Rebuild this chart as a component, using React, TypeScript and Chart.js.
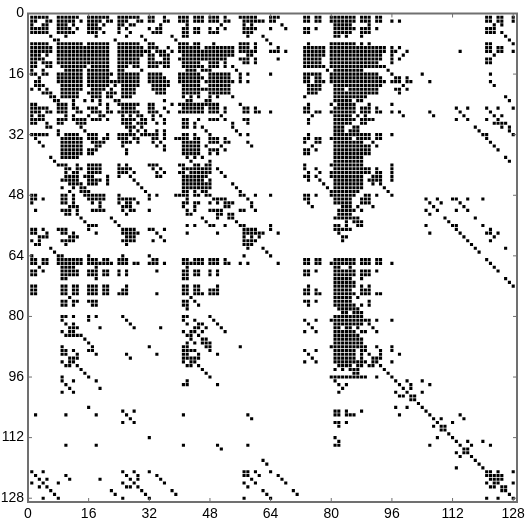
import React, { useEffect, useRef } from "react";
import { Chart, registerables } from "chart.js";

Chart.register(...registerables);

const tickValues = [0, 16, 32, 48, 64, 80, 96, 112, 128];

// Non-zero columns of each matrix row.
const rows1to32 = [
  "1-5 8-13 16-21 24-29 32-33 36 40-42 44-46 48-50 52 56-60 64-66 73-74 76-77 80-86 88-90 92-93 121-122 124-125 128",
  "1-2 5-6 8-12 14 16-19 21-22 24-26 29-30 32-33 36-37 40-42 44-46 48-50 52-53 57-62 64-65 73-74 76-77 80-86 88-90 92-93 96 98 121-122 124-125 128",
  "1 4-5 8-10 12 16-18 20 24-25 27-28 35 42 51 57 59 67 81-85 90 123 125",
  "1-5 8-11 13 16-19 24 26 32 34-35 41-42 44-45 48 50 52 57-60 64 68 73-74 76 81-86 88-90 92 121-123",
  "1-5 8-12 16-18 20 24 27 33-35 41-42 44-45 48-50 57-59 73-74 81-85 88-90 121-123 125",
  "6 10 18 26 30 38 41-42 58 62 81-82 84 88 126",
  "7-8 23 31 39 63 127",
  "1-5 8-14 16-21 24-29 32-33 40-42 44-45 49 56-58 60 64 74 80-86 88 90 121-122 128",
  "1-6 8-21 24-30 32-34 37 40-45 47-54 56-58 60 66 73-78 80-94 96 98 121-122 124-125",
  "1-6 8-21 24-32 34-36 38 40-54 56-60 64-66 68 73-78 80-94 96-97 100 114 121-122 124-125 128",
  "1-3 5 8-21 24-30 32-33 35-37 41-54 58-59 73-78 80-93 96 99 123",
  "1-4 8-21 24-29 32-33 36-37 40-52 56-58 60 66 73-77 80-93 96 98 121-122",
  "1-2 4-6 8-21 24-29 32-37 41-45 48-50 52 57-58 60 73-77 80-92 96 121-122",
  "1-2 5-6 9-15 17-21 24-26 28-29 32-34 36-37 41-46 48-50 52 54 73-78 80-94",
  "1 4 10-14 16-21 24-25 30 42-44 46-48 55 79 81-88 95",
  "1-2 4-5 8-14 16-22 24-29 32-35 40-45 48-53 56 58 64 73-77 80-92 96 104 122",
  "3 8-14 16-21 24-29 32-36 40-46 48-53 56 73-74 76-77 80-93 97-98 100",
  "2-3 8-14 16-29 32-37 40-45 47-54 56 58 73-74 76-78 80-94 96-98 100-101 106 122",
  "2-4 9-14 16-21 23 25-29 33-37 41-45 48-53 74-77 81-93 99 123",
  "1 3 5 9-14 17-20 22 25-28 33-36 41-46 47-53 74-77 81-83 85-92 97-98 100",
  "4-6 9-13 16-19 21-23 25-28 34-36 41-45 48-53 74-76 81-92 98",
  "6-7 9-13 17-19 21-22 25-27 41 43 45 48 50 54 73 81-89 126",
  "7-8 12 15 17 19 23-24 36 42-43 47-48 81-85 87-88 127",
  "1-2 8-10 12 19 21 24-29 32-33 38 40-50 56 74 80 82-86 90 96",
  "1-5 8-10 12-13 16-18 21 25-28 32-33 36 41-46 48-50 52 57-58 60 73-74 81-86 88-90 92 113 116 121 124 128",
  "1-3 5-6 8-10 13-14 17-19 21-22 24-29 32-34 37 40-46 48-50 52 57-58 60-61 64 73-74 76-77 80-86 88-90 92-93 96 98 106 114 122",
  "1 3-4 10 12 16 19-20 25 27 29-30 33 35 51 75 81-85 87 89 99 107 115 123 125",
  "1-4 8-10 12-15 17-19 21 25-28 30-31 33 36 41-42 45 48-50 52 57-58 74 81-86 88-91 113 116 121 124",
  "1-2 5 8-9 13-15 25-27 29-31 34 36 41-42 44 54 58 74 81-85 88-89 123-126",
  "5-6 14 26-28 30 41-42 44 46 54 81-83 86-87 118 125 127",
  "8 15 27 29 31 34 36 47 55 81-83 85-87 119 127",
  "1-5 8 10-13 16-18 21 24-28 30-34 36 41-42 44 48 56 58 74 81-90 92-93 96 120-121 128",
];

const rows33to64 = [
  "2 9-14 16-18 20-21 24-26 28-29 33-34 36 39-42 44-45 48-50 52 73-74 76-77 80-85 87-90 92-93 121",
  "3 9-14 17-20 25-27 29 33 35 41-45 48-50 52-53 58 73 76-77 81-88 91 122",
  "4 9-14 18-19 25 34 36 41-45 47 51 59 75 81-90 92 123",
  "9-14 16-18 26 36 41-45 48-50 52 73-74 76 81-90 124",
  "9-14 16-17 26 41-45 48 50 73-74 81-90",
  "6 9-13 42 44 46 81-88 126",
  "7 43 48 81-88 127",
  "8-10 13 16-19 24 26 32-34 40-41 44-45 47-48 73 80-88 96",
  "10-11 13-14 16-19 24-27 33 35 41-48 50 73 76 81-90 92 96",
  "10 12-13 16-19 24-26 28 34 36 40-41 43-48 51 74 77 80-90 92-93 96",
  "10-13 15-17 21 24 27 34-35 41-47 52 73-74 76 80-88 91-93 96",
  "9-13 16-19 21 28 41-46 48 74 77 81-88 90-93 96",
  "11-14 16-18 21 29 41-48 54 78 81-88 91 93",
  "9 12 14-15 30 41-48 55 79 81-88 94",
  "11 14-16 31 41-42 44 46-47 56 80-87 95",
  "1-2 9-10 12 15-20 24 32 34 39-42 44-45 47-48 56-57 60 64 73-74 76 80-86 89-90 92 96",
  "1-2 4 9-10 12 16-20 24-28 32 42 49-52 58 73-74 81-85 88-90 105 108 112-113 116 120",
  "1 9-10 12 17 19 24 26-27 29 41-42 44-45 48 50 52-54 59 74 81-85 88-90 106 109 114",
  "11-13 19 25-27 41 44 52-53 59 75 83-85 87 91 107 115",
  "2 9-11 13 17-20 25 27-28 32 42 44 48-51 56-57 60 82-86 88 105 108 113 116",
  "10-11 13 26 42-43 50-51 53-54 82-85 106",
  "14 22 46 50 53-54 81-87 110 118",
  "15 23 47 55 84 86-88 111",
  "16-18 24 42 44 48-49 52 56-57 64 81-82 84 87-88 105 112-113 120",
  "1-2 4 8-10 16 25-28 32-33 36 57-60 64 81-85 113 122",
  "1-2 5 9-10 12 18 25-29 34 42 50 57-62 66 82 106 114 121-122 124",
  "3-5 11-13 26-28 35 57 59 61 83-84 115 123",
  "1 3 9-12 25-28 33 36 57-60 83 116 122",
  "2-3 10 26 57-59 117",
  "6 58 62 118 126",
  "7 63 119",
  "1 8-9 16 25 32 57 64",
];

const rows65to96 = [
  "1-2 4-5 8-14 16-18 20-21 24-26 33-34 41-42 44-46 48-50 52 73-74 76-77 81-86 88-90 92-93 121",
  "1-2 4-5 8-14 16-22 24-26 28-29 32-34 36 41-46 48-50 52-53 56 58 66 73-74 76-77 80-86 88-90 92-93 96 122",
  "3 9-12 18 42 81-82 85 123",
  "1-2 4 9-13 16-18 20-21 24 26 34 41-42 44-45 48 50 73-74 76 81-86 88-90 92 124",
  "1-2 9-13 16-18 20-21 24 26 41-42 44-45 48 50 73-74 81-86 88-90",
  "9-10 18 41-42 81-85 88 126",
  "81-86 127",
  "1-2 9-10 12-13 16-18 20-21 26 41-42 44-45 50 74 81-86 88 90 128",
  "1-2 9-10 12-13 16-18 20-21 25-26 41-42 44-45 48-50 73-74 76 81-85 88-90",
  "1-2 9-10 12-13 16-18 20-21 24-26 34 41-42 44-46 48-50 73-74 76-77 81-86 88-90 92-93",
  "11 43 81-85 87",
  "9-10 12-13 16-18 41-42 44 73-74 76 81-85 90",
  "9-10 12 17-18 41-42 45 74 81-86 88 90",
  "42 82-87",
  "83-84 86-88",
  "9-10 12 16 18 25 41-42 48 81-88",
  "9 16 26 41 44 49 73 76 80-90 92 96",
  "10 12 27 42 45-46 50 74 81-88 90",
  "11-13 19 28 35 44-45 47 51 75 81-82 84-85 87 91",
  "9 11-12 41 43-44 46 52 73 76 81-86 88-89 92",
  "10-14 42-43 45 81-87",
  "15 43 46-47 81-88",
  "16 42 44 46-48 81-88",
  "9 17 32 41-42 47-48 56 80-89 92 96",
  "9-10 12 16-17 41-44 48 73 76 81-86 88-89 93 96",
  "9-10 13 18 26 34 41-42 45 50 74 81-86 88 90 93 98",
  "11-13 27 41-45 75 81-86 88 91-93",
  "9 11-12 41 43-44 73 76 81-89 91-92 96",
  "10-11 13 42-43 45 82-85 87-88 90-91 93",
  "14 46 81 83 85-87 94",
  "15 47 86-87 95",
  "9 16 48 80-89 92 96",
];

const rows97to128 = [
  "9 12 18 42 81 97 100 104",
  "10 41-42 50 82 84 98 101 106",
  "11 19 83 99 101",
  "9 12 82 97 100 104",
  "98-99 101-102",
  "101-102",
  "103",
  "16 97 100 104",
  "25 28 81-82 84 88 105",
  "2 10 18 26 41 58 81-82 84-86 98 106 114",
  "27 59 107 109 115",
  "25 28 81-82 84 108 112",
  "82 107 109-110",
  "109-110",
  "111",
  "32 81 108 112",
  "82 113 116 120",
  "10 18 41 50 58 81-82 106 114 117 122",
  "51 115-116",
  "113 115-116",
  "114 117",
  "62 118",
  "63 119",
  "113 120",
  "1 4 25 28 32 57-58 60 64 121-122 124 128",
  "2 10 26 29 34 57-58 61 66 121-125",
  "3 5 11 19 27 29 35 59 67 122-125",
  "1 4 8 25 28 36 57 60 68 121 123-124 128",
  "3 5 26-27 29 58 122-123 125-126",
  "6 22 30 38 62 70 125-126",
  "7 23 31 39 63 71 127",
  "4 8 25 32 57 64 121 124 128",
];

const rows = [...rows1to32, ...rows33to64, ...rows65to96, ...rows97to128];

const points: { x: number; y: number }[] = [];
rows.forEach((text, index) => {
  text.split(" ").forEach((part) => {
    const [a, b] = part.split("-").map(Number);
    for (let c = a; c <= (b ?? a); c++) points.push({ x: c, y: index + 1 });
  });
});

const FRAME = "#707070";
const TOP = 13.5;
const LEFT = 28;
const RIGHT = 517;
const BOTTOM = 502;

const framePlugin = {
  id: "frameTicks",
  afterDraw(chart: any) {
    const { ctx, scales } = chart;
    const left = scales.x.left;
    const right = scales.x.right;
    const top = scales.y.top;
    const bottom = scales.y.bottom;
    const t = 4;
    ctx.save();
    ctx.strokeStyle = FRAME;
    ctx.lineWidth = 2;
    ctx.strokeRect(left, top, right - left, bottom - top);
    ctx.lineWidth = 1;
    ctx.beginPath();
    tickValues.forEach((v) => {
      const x = scales.x.getPixelForValue(v);
      const y = scales.y.getPixelForValue(v);
      ctx.moveTo(x, top);
      ctx.lineTo(x, top + t);
      ctx.moveTo(x, bottom);
      ctx.lineTo(x, bottom - t);
      ctx.moveTo(left, y);
      ctx.lineTo(left + t, y);
      ctx.moveTo(right, y);
      ctx.lineTo(right - t, y);
    });
    ctx.stroke();
    ctx.restore();
  },
};

export default function App() {
  const ref = useRef<HTMLCanvasElement>(null);
  useEffect(() => {
    const chart = new Chart(ref.current!, {
      type: "scatter",
      data: {
        datasets: [
          {
            data: points,
            pointStyle: "rect",
            pointRadius: 2.2,
            pointHoverRadius: 2.2,
            backgroundColor: "#000",
            borderWidth: 0,
          },
        ],
      },
      options: {
        animation: false,
        responsive: false,
        events: [],
        layout: { padding: { left: 0, right: 529 - RIGHT, top: TOP, bottom: 0 } },
        plugins: { legend: { display: false }, tooltip: { enabled: false } },
        scales: {
          x: {
            type: "linear",
            min: 0,
            max: 129,
            position: "bottom",
            grid: { display: false, drawTicks: false },
            border: { display: false },
            afterFit(s: any) {
              s.paddingLeft = 0;
              s.paddingRight = 0;
              s.height = 522 - BOTTOM;
            },
            ticks: {
              stepSize: 16,
              includeBounds: false,
              autoSkip: false,
              maxRotation: 0,
              padding: 4,
              color: "#000",
              font: { family: "'Liberation Sans'", size: 14 },
            },
          },
          y: {
            type: "linear",
            min: 0,
            max: 129,
            reverse: true,
            grid: { display: false, drawTicks: false },
            border: { display: false },
            afterFit(s: any) {
              s.paddingTop = 0;
              s.paddingBottom = 0;
              s.width = LEFT;
            },
            ticks: {
              stepSize: 16,
              includeBounds: false,
              autoSkip: false,
              padding: 4,
              color: "#000",
              font: { family: "'Liberation Sans'", size: 14 },
            },
          },
        },
      },
      plugins: [framePlugin],
    } as any);
    return () => chart.destroy();
  }, []);
  return (
    <canvas
      ref={ref}
      width={529}
      height={522}
      style={{ position: "absolute", left: 0, top: 0, display: "block" }}
    />
  );
}
